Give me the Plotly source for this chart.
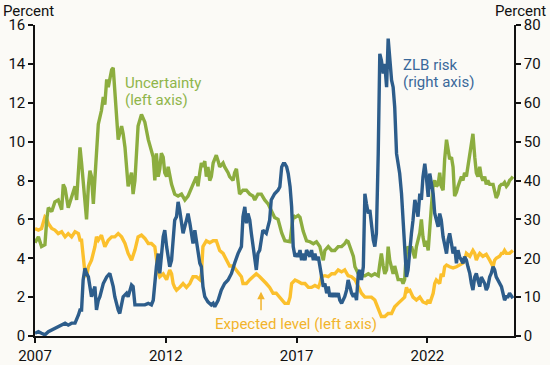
import plotly.graph_objects as go

# ---- Data ----
unc_years = [2007.00, 2007.13, 2007.25, 2007.38, 2007.45, 2007.51, 2007.64, 2007.76, 2007.89, 2008.02,
             2008.08, 2008.15, 2008.27, 2008.40, 2008.53, 2008.59, 2008.72, 2008.78, 2008.84, 2008.91,
             2008.97, 2009.04, 2009.10, 2009.16, 2009.23, 2009.35, 2009.42, 2009.54, 2009.61, 2009.67,
             2009.74, 2009.80, 2009.86, 2009.93, 2009.99, 2010.05, 2010.12, 2010.18, 2010.31, 2010.37,
             2010.44, 2010.50, 2010.56, 2010.69, 2010.75, 2010.82, 2010.88, 2010.94, 2011.07, 2011.20,
             2011.33, 2011.45, 2011.52, 2011.58, 2011.64, 2011.71, 2011.77, 2011.83, 2011.90, 2011.96,
             2012.03, 2012.09, 2012.15, 2012.22, 2012.34, 2012.47, 2012.60, 2012.73, 2012.85, 2012.98,
             2013.04, 2013.17, 2013.23, 2013.30, 2013.36, 2013.42, 2013.49, 2013.55, 2013.61, 2013.68,
             2013.74, 2013.81, 2013.93, 2014.00, 2014.06, 2014.19, 2014.25, 2014.38, 2014.44, 2014.57,
             2014.63, 2014.70, 2014.76, 2014.82, 2014.95, 2015.08, 2015.21, 2015.33, 2015.40, 2015.52,
             2015.65, 2015.78, 2015.91, 2016.03, 2016.16, 2016.29, 2016.43, 2016.55, 2016.68, 2016.75,
             2016.87, 2016.94, 2017.06, 2017.13, 2017.25, 2017.38, 2017.51, 2017.64, 2017.76, 2017.89,
             2017.95, 2018.02, 2018.08, 2018.21, 2018.34, 2018.46, 2018.59, 2018.72, 2018.84, 2018.91,
             2018.97, 2019.04, 2019.17, 2019.23, 2019.36, 2019.48, 2019.61, 2019.74, 2019.86, 2019.99,
             2020.12, 2020.18, 2020.24, 2020.31, 2020.37, 2020.44, 2020.50, 2020.56, 2020.63, 2020.69,
             2020.75, 2020.82, 2020.88, 2021.01, 2021.07, 2021.13, 2021.20, 2021.26, 2021.33, 2021.39,
             2021.45, 2021.52, 2021.58, 2021.64, 2021.71, 2021.77, 2021.83, 2021.90, 2021.96, 2022.03,
             2022.09, 2022.15, 2022.22, 2022.28, 2022.34, 2022.41, 2022.47, 2022.53, 2022.60, 2022.66,
             2022.73, 2022.79, 2022.85, 2022.92, 2022.98, 2023.04, 2023.11, 2023.17, 2023.23, 2023.30,
             2023.36, 2023.42, 2023.49, 2023.55, 2023.62, 2023.68, 2023.74, 2023.81, 2023.87, 2023.93,
             2024.00, 2024.06, 2024.12, 2024.19, 2024.25, 2024.31, 2024.38, 2024.51, 2024.57, 2024.63,
             2024.70, 2024.76, 2024.83, 2024.89, 2024.95, 2025.02, 2025.08, 2025.14, 2025.21, 2025.27]
unc_vals = [4.8, 5.1, 4.6, 4.7, 6.0, 6.6, 6.4, 6.9, 7.0, 6.5,
            7.8, 7.6, 6.6, 7.2, 7.7, 7.0, 9.7, 8.9, 8.0, 6.8,
            6.0, 7.7, 8.5, 8.2, 6.8, 9.4, 10.9, 11.6, 12.3, 11.9,
            13.2, 12.8, 13.3, 13.7, 13.8, 12.8, 11.1, 10.1, 10.8, 10.4,
            9.7, 8.7, 7.7, 8.4, 7.3, 8.0, 9.9, 10.8, 11.4, 11.0,
            10.1, 9.6, 9.2, 8.0, 9.4, 8.2, 8.6, 9.4, 9.2, 8.4,
            8.2, 8.7, 8.2, 7.8, 7.3, 7.2, 7.3, 7.0, 7.2, 7.7,
            7.8, 8.2, 7.7, 8.4, 8.9, 8.7, 9.0, 8.2, 8.7, 8.0,
            8.2, 8.9, 9.3, 9.0, 8.7, 8.9, 8.7, 8.4, 8.2, 8.0,
            8.4, 8.6, 7.8, 7.3, 7.5, 7.5, 7.3, 7.2, 7.0, 7.3,
            7.3, 7.0, 6.8, 6.5, 6.1, 6.0, 5.3, 4.9, 4.85, 4.85,
            6.2, 6.1, 6.2, 6.1, 5.4, 4.9, 4.85, 4.75, 4.85, 4.6,
            4.25, 3.9, 4.4, 4.6, 4.4, 4.4, 4.6, 4.6, 4.75, 4.9,
            4.85, 4.6, 4.1, 3.56, 3.2, 3.1, 3.1, 3.2, 3.1, 3.2,
            3.1, 3.7, 4.25, 3.6, 3.2, 3.4, 4.6, 3.9, 3.6, 3.2,
            3.6, 3.2, 2.9, 2.9, 2.7, 2.9, 4.4, 4.6, 4.4, 4.6,
            4.25, 4.0, 4.6, 5.0, 5.3, 6.0, 5.1, 4.6, 4.9, 4.4,
            5.3, 6.6, 7.8, 8.0, 7.7, 7.8, 8.4, 7.7, 7.5, 9.1,
            10.1, 9.7, 9.1, 9.2, 8.7, 7.2, 7.4, 7.7, 8.0, 8.2,
            8.0, 8.4, 8.2, 8.7, 9.4, 9.7, 10.4, 9.2, 8.4, 8.2,
            8.7, 8.2, 8.0, 8.2, 7.8, 8.0, 7.8, 7.8, 7.5, 7.1,
            7.3, 7.7, 7.8, 7.8, 7.9, 7.7, 7.8, 8.0, 8.1, 8.2]

zlb_years = [2007.00, 2007.13, 2007.25, 2007.38, 2007.51, 2007.64, 2007.76, 2007.89, 2008.02, 2008.15,
             2008.27, 2008.40, 2008.53, 2008.59, 2008.66, 2008.72, 2008.78, 2008.84, 2008.91, 2008.97,
             2009.04, 2009.16, 2009.29, 2009.35, 2009.42, 2009.48, 2009.61, 2009.74, 2009.86, 2009.99,
             2010.05, 2010.18, 2010.24, 2010.37, 2010.50, 2010.56, 2010.69, 2010.75, 2010.82, 2010.94,
             2011.07, 2011.20, 2011.33, 2011.45, 2011.52, 2011.58, 2011.64, 2011.71, 2011.77, 2011.90,
             2011.96, 2012.03, 2012.15, 2012.22, 2012.34, 2012.41, 2012.47, 2012.53, 2012.60, 2012.66,
             2012.79, 2012.85, 2012.92, 2012.98, 2013.04, 2013.11, 2013.17, 2013.23, 2013.30, 2013.36,
             2013.42, 2013.49, 2013.61, 2013.74, 2013.81, 2013.87, 2014.00, 2014.12, 2014.25, 2014.38,
             2014.51, 2014.63, 2014.76, 2014.89, 2014.95, 2015.02, 2015.08, 2015.14, 2015.21, 2015.27,
             2015.33, 2015.40, 2015.46, 2015.52, 2015.59, 2015.65, 2015.71, 2015.84, 2015.91, 2015.97,
             2016.03, 2016.10, 2016.16, 2016.29, 2016.36, 2016.43, 2016.49, 2016.55, 2016.62, 2016.68,
             2016.75, 2016.81, 2016.87, 2016.94, 2017.00, 2017.06, 2017.13, 2017.19, 2017.25, 2017.32,
             2017.38, 2017.45, 2017.51, 2017.57, 2017.64, 2017.70, 2017.76, 2017.83, 2017.89, 2017.95,
             2018.02, 2018.08, 2018.15, 2018.21, 2018.27, 2018.34, 2018.40, 2018.46, 2018.53, 2018.59,
             2018.65, 2018.72, 2018.84, 2018.91, 2018.97, 2019.04, 2019.10, 2019.17, 2019.23, 2019.29,
             2019.36, 2019.42, 2019.48, 2019.55, 2019.61, 2019.67, 2019.74, 2019.80, 2019.86, 2019.93,
             2019.99, 2020.05, 2020.12, 2020.18, 2020.24, 2020.31, 2020.37, 2020.44, 2020.50, 2020.56,
             2020.63, 2020.69, 2020.75, 2020.82, 2020.88, 2020.94, 2021.01, 2021.07, 2021.13, 2021.20,
             2021.26, 2021.33, 2021.39, 2021.45, 2021.52, 2021.58, 2021.64, 2021.71, 2021.77, 2021.83,
             2021.90, 2021.96, 2022.03, 2022.09, 2022.15, 2022.22, 2022.28, 2022.34, 2022.41, 2022.47,
             2022.53, 2022.60, 2022.66, 2022.73, 2022.79, 2022.85, 2022.92, 2022.98, 2023.04, 2023.11,
             2023.17, 2023.23, 2023.30, 2023.36, 2023.42, 2023.49, 2023.55, 2023.62, 2023.68, 2023.74,
             2023.81, 2023.87, 2023.93, 2024.00, 2024.06, 2024.12, 2024.19, 2024.25, 2024.31, 2024.38,
             2024.44, 2024.51, 2024.57, 2024.63, 2024.70, 2024.76, 2024.83, 2024.89, 2024.95, 2025.02,
             2025.08, 2025.14, 2025.21, 2025.27]
zlb_vals = [0.7, 1.1, 0.7, 0.3, 1.1, 1.5, 2.0, 2.4, 2.8, 3.3,
            2.8, 3.3, 3.3, 4.1, 5.4, 6.7, 6.7, 14.4, 17.4, 16.1,
            15.2, 10.1, 12.7, 6.7, 9.2, 10.1, 13.5, 15.2, 16.1, 12.7,
            10.1, 6.7, 5.8, 10.1, 11.0, 10.1, 13.1, 12.7, 8.0, 8.0,
            8.0, 8.0, 8.4, 8.0, 9.2, 15.0, 17.8, 21.2, 16.1, 25.5,
            27.2, 23.0, 17.8, 19.5, 29.8, 30.7, 34.5, 32.4, 28.1, 26.4,
            29.8, 31.5, 29.0, 25.5, 23.8, 27.2, 24.7, 22.1, 18.7, 17.8,
            12.7, 10.1, 8.8, 8.0, 8.4, 7.5, 9.2, 11.8, 13.5, 14.4,
            16.1, 18.7, 21.2, 23.0, 30.7, 33.2, 29.0, 31.5, 29.8, 26.4,
            23.0, 18.7, 17.0, 21.2, 22.1, 24.7, 27.2, 26.4, 28.1, 29.8,
            35.0, 35.8, 36.6, 37.5, 38.4, 43.5, 44.3, 44.3, 43.5, 41.8,
            38.4, 33.2, 23.0, 20.4, 21.2, 20.4, 22.1, 19.5, 21.2, 19.5,
            22.1, 21.2, 20.4, 22.1, 19.5, 21.2, 19.5, 20.4, 17.8, 14.4,
            12.7, 13.5, 11.0, 12.7, 10.1, 11.0, 10.1, 11.0, 10.1, 11.0,
            9.2, 8.4, 10.1, 11.8, 14.4, 12.7, 11.0, 10.1, 11.0, 9.2,
            16.1, 17.0, 14.4, 17.8, 36.6, 34.0, 31.5, 32.4, 28.1, 24.7,
            23.0, 26.4, 46.9, 72.6, 70.9, 67.5, 70.0, 64.0, 76.5, 70.9,
            65.8, 64.0, 58.9, 46.9, 44.3, 41.8, 36.6, 29.8, 23.0, 15.2,
            17.0, 23.0, 26.4, 29.8, 35.0, 33.2, 30.7, 36.6, 35.0, 40.9,
            44.3, 40.9, 35.8, 41.8, 39.2, 36.6, 31.5, 29.8, 28.1, 31.5,
            29.8, 25.5, 23.8, 21.2, 24.7, 26.4, 23.8, 21.2, 23.0, 18.7,
            22.1, 20.4, 19.5, 18.7, 20.4, 19.5, 17.8, 16.1, 13.5, 11.8,
            15.2, 16.1, 14.4, 12.7, 15.2, 14.4, 13.5, 11.8, 12.7, 15.2,
            16.1, 17.8, 17.0, 15.2, 14.4, 13.5, 12.7, 11.0, 9.2, 10.1,
            10.1, 11.0, 10.1, 9.7]

exp_years = [2007.00, 2007.13, 2007.25, 2007.38, 2007.45, 2007.51, 2007.64, 2007.76, 2007.89, 2008.02,
             2008.15, 2008.27, 2008.40, 2008.53, 2008.66, 2008.72, 2008.78, 2008.84, 2008.91, 2008.97,
             2009.04, 2009.16, 2009.29, 2009.35, 2009.42, 2009.54, 2009.67, 2009.80, 2009.93, 2010.05,
             2010.18, 2010.31, 2010.44, 2010.56, 2010.69, 2010.82, 2010.94, 2011.07, 2011.20, 2011.33,
             2011.45, 2011.58, 2011.64, 2011.71, 2011.77, 2011.90, 2012.03, 2012.15, 2012.22, 2012.28,
             2012.34, 2012.41, 2012.53, 2012.66, 2012.79, 2012.92, 2013.04, 2013.17, 2013.30, 2013.36,
             2013.42, 2013.55, 2013.68, 2013.81, 2013.93, 2014.06, 2014.19, 2014.31, 2014.44, 2014.57,
             2014.70, 2014.82, 2014.89, 2014.95, 2015.08, 2015.21, 2015.33, 2015.46, 2015.59, 2015.71,
             2015.84, 2015.97, 2016.10, 2016.22, 2016.35, 2016.43, 2016.55, 2016.68, 2016.75, 2016.81,
             2016.94, 2017.06, 2017.19, 2017.32, 2017.45, 2017.57, 2017.70, 2017.83, 2017.89, 2017.95,
             2018.08, 2018.21, 2018.34, 2018.46, 2018.59, 2018.72, 2018.84, 2018.97, 2019.10, 2019.23,
             2019.36, 2019.48, 2019.61, 2019.74, 2019.86, 2019.99, 2020.12, 2020.24, 2020.37, 2020.50,
             2020.63, 2020.75, 2020.88, 2021.01, 2021.13, 2021.20, 2021.26, 2021.33, 2021.45, 2021.58,
             2021.71, 2021.83, 2021.96, 2022.03, 2022.09, 2022.22, 2022.28, 2022.34, 2022.47, 2022.53,
             2022.60, 2022.66, 2022.73, 2022.85, 2022.98, 2023.11, 2023.23, 2023.36, 2023.42, 2023.49,
             2023.62, 2023.74, 2023.81, 2023.87, 2023.93, 2024.00, 2024.12, 2024.25, 2024.38, 2024.51,
             2024.57, 2024.63, 2024.76, 2024.83, 2024.89, 2024.95, 2025.02, 2025.14, 2025.27]
exp_vals = [5.53, 5.45, 5.53, 6.13, 6.04, 5.79, 5.53, 5.45, 5.27, 5.36,
            5.10, 5.27, 5.10, 5.36, 5.27, 4.93, 4.93, 4.25, 3.22, 3.05,
            3.56, 3.90, 4.59, 5.10, 4.93, 5.19, 4.59, 4.93, 5.10, 5.10,
            5.27, 5.10, 4.76, 4.25, 3.90, 4.42, 5.10, 5.19, 5.02, 4.76,
            4.76, 4.59, 4.00, 3.30, 3.05, 3.20, 2.90, 3.40, 3.20, 2.70,
            2.50, 2.36, 2.50, 2.70, 2.50, 2.70, 3.05, 3.05, 2.90, 3.20,
            4.60, 4.90, 4.80, 4.90, 4.90, 4.40, 4.25, 3.90, 3.60, 3.60,
            3.40, 3.20, 3.05, 2.70, 2.70, 2.90, 3.05, 3.20, 3.05, 2.90,
            2.70, 2.50, 2.20, 2.20, 2.00, 1.85, 1.68, 1.68, 2.00, 2.70,
            2.88, 2.80, 2.70, 2.70, 2.50, 2.50, 2.60, 2.50, 2.70, 3.05,
            3.10, 3.05, 3.20, 3.20, 3.40, 3.30, 3.40, 3.10, 3.05, 2.90,
            2.50, 2.20, 2.00, 2.00, 2.00, 1.85, 1.34, 1.00, 1.00, 1.16,
            1.16, 1.50, 1.68, 1.85, 2.00, 2.50, 2.30, 2.35, 2.00, 1.85,
            2.00, 1.75, 1.68, 1.85, 1.68, 2.20, 2.70, 2.88, 2.70, 3.20,
            3.05, 3.56, 3.65, 3.56, 3.50, 3.56, 3.65, 3.75, 3.90, 4.25,
            4.10, 4.40, 4.25, 3.90, 4.10, 4.25, 4.10, 4.20, 3.90, 3.56,
            3.90, 4.00, 4.10, 4.25, 4.25, 4.40, 4.25, 4.25, 4.40]

x_tick_vals = [2007, 2012, 2017, 2022]
x_tick_text = ["2007", "2012", "2017", "2022"]
left_ticks = [0, 2, 4, 6, 8, 10, 12, 14, 16]
right_ticks = [0, 10, 20, 30, 40, 50, 60, 70, 80]

# ---- Styling ----
BG = "#fbfaf6"
BLUE = "#2d5d8b"
GREEN = "#8cad3f"
YELLOW = "#fbc02d"
FONT = "Roboto"
INK = "#111111"
FS = 15

fig = go.Figure()
fig.add_trace(go.Scatter(x=exp_years, y=exp_vals, mode="lines",
                         line=dict(color=YELLOW, width=3.4), name="Expected level", yaxis="y"))
fig.add_trace(go.Scatter(x=unc_years, y=unc_vals, mode="lines",
                         line=dict(color=GREEN, width=3.4), name="Uncertainty", yaxis="y"))
fig.add_trace(go.Scatter(x=zlb_years, y=zlb_vals, mode="lines",
                         line=dict(color=BLUE, width=3.4), name="ZLB risk", yaxis="y2"))

axis_common = dict(showgrid=False, zeroline=False, showline=True, linecolor=INK, linewidth=1.5,
                   ticks="outside", ticklen=5, tickwidth=1.5, tickcolor=INK, automargin=False,
                   tickfont=dict(family=FONT, size=FS, color=INK))

fig.update_layout(
    width=550, height=365,
    paper_bgcolor=BG, plot_bgcolor=BG,
    margin=dict(l=35, r=36, t=25, b=29),
    showlegend=False,
    font=dict(family=FONT, size=FS, color=INK),
    xaxis=dict(range=[2007, 2025.31], tickvals=x_tick_vals, ticktext=x_tick_text, **axis_common),
    yaxis=dict(range=[0, 16], tickvals=left_ticks, **axis_common),
    yaxis2=dict(range=[0, 80], tickvals=right_ticks, overlaying="y", side="right", **axis_common),
)

def label(text, x, y, color, anchor="left"):
    return dict(text=text, x=x, y=y, xref="x", yref="y", xanchor=anchor, yanchor="middle",
                showarrow=False, font=dict(family=FONT, size=FS, color=color))

ann = [
    dict(text="Percent", xref="paper", yref="paper", x=-0.071, y=1.08, xanchor="left", yanchor="top",
         showarrow=False, font=dict(family=FONT, size=FS, color=INK)),
    dict(text="Percent", xref="paper", yref="paper", x=1.071, y=1.08, xanchor="right", yanchor="top",
         showarrow=False, font=dict(family=FONT, size=FS, color=INK)),
    label("Uncertainty", 2010.36, 13.0, "#8fb54a"),
    label("(left axis)", 2010.36, 12.15, "#8fb54a"),
    label("ZLB risk", 2021.0, 13.93, "#3a689a"),
    label("(right axis)", 2021.0, 13.05, "#3a689a"),
    label("Expected level (left axis)", 2013.81, 0.64, "#f2b42c"),
    dict(text="", x=2015.64, y=2.28, xref="x", yref="y", showarrow=True,
         ax=0, ay=20, arrowhead=2, arrowsize=1, arrowwidth=1.5, arrowcolor="#f2b42c"),
]
fig.update_layout(annotations=ann)

page_fix = ("document.body.style.margin='0px';"
            "document.body.style.overflow='hidden';"
            "document.body.style.background='%s';" % BG)
fig.write_html("out.html", post_script=page_fix, config={"displayModeBar": False})
